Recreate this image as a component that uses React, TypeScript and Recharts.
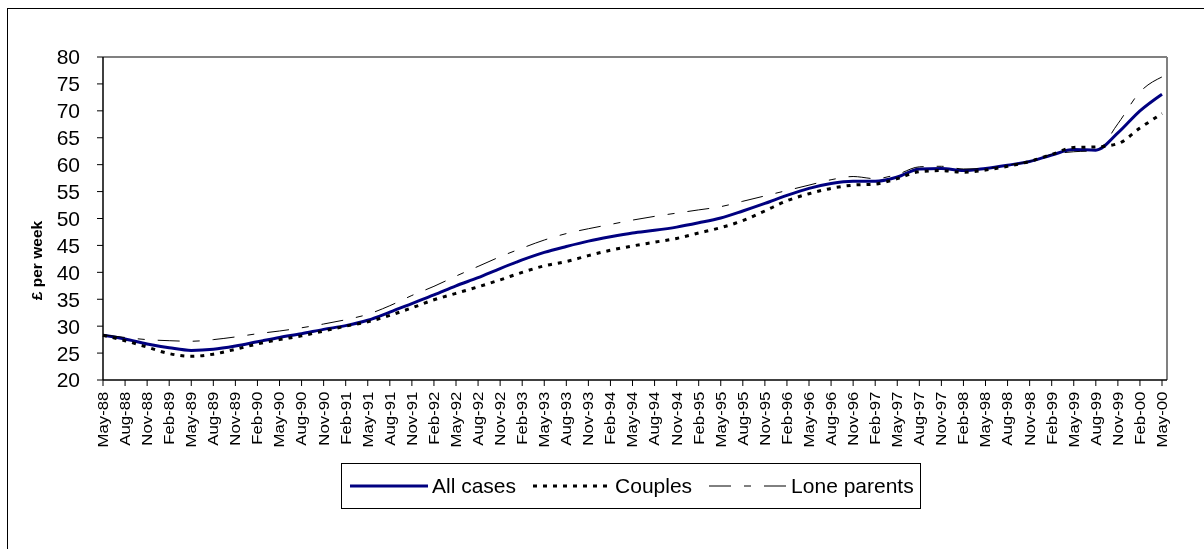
import React from 'react';
import { LineChart, Line, XAxis, YAxis, CartesianGrid, Legend } from 'recharts';

const quarters = [
  'May-88', 'Aug-88', 'Nov-88', 'Feb-89', 'May-89', 'Aug-89', 'Nov-89', 'Feb-90', 'May-90', 'Aug-90',
  'Nov-90', 'Feb-91', 'May-91', 'Aug-91', 'Nov-91', 'Feb-92', 'May-92', 'Aug-92', 'Nov-92', 'Feb-93',
  'May-93', 'Aug-93', 'Nov-93', 'Feb-94', 'May-94', 'Aug-94', 'Nov-94', 'Feb-95', 'May-95', 'Aug-95',
  'Nov-95', 'Feb-96', 'May-96', 'Aug-96', 'Nov-96', 'Feb-97', 'May-97', 'Aug-97', 'Nov-97', 'Feb-98',
  'May-98', 'Aug-98', 'Nov-98', 'Feb-99', 'May-99', 'Aug-99', 'Nov-99', 'Feb-00', 'May-00',
];

const allCases = [
  28.3, 27.6, 26.7, 26.0, 25.5, 25.7, 26.3, 27.1, 27.9, 28.6,
  29.4, 30.1, 31.1, 32.6, 34.2, 35.8, 37.5, 39.0, 40.7, 42.3,
  43.7, 44.8, 45.8, 46.6, 47.3, 47.8, 48.4, 49.2, 50.1, 51.4,
  52.8, 54.3, 55.6, 56.5, 56.9, 56.9, 57.7, 59.2, 59.3, 58.9,
  59.3, 59.9, 60.6, 61.8, 62.8, 62.7, 65.9, 70.0, 73.1,
];

const couples = [
  28.3, 27.3, 26.1, 24.9, 24.4, 24.8, 25.7, 26.7, 27.5, 28.2,
  29.1, 30.0, 30.8, 32.0, 33.4, 34.9, 36.1, 37.3, 38.6, 40.0,
  41.2, 42.0, 43.1, 44.1, 44.9, 45.6, 46.3, 47.3, 48.3, 49.6,
  51.4, 53.3, 54.6, 55.6, 56.2, 56.4, 57.4, 58.7, 58.9, 58.6,
  59.0, 59.7, 60.6, 61.9, 63.2, 63.3, 63.9, 66.8, 69.5,
];

const loneParents = [
  28.4, 27.9, 27.5, 27.3, 27.2, 27.5, 28.0, 28.6, 29.1, 29.7,
  30.4, 31.2, 32.2, 33.8, 35.7, 37.4, 39.3, 41.1, 42.9, 44.5,
  46.0, 47.2, 48.1, 48.9, 49.7, 50.4, 51.0, 51.6, 52.2, 53.2,
  54.2, 55.2, 56.2, 57.2, 57.8, 57.4, 58.2, 59.6, 59.7, 59.2,
  59.3, 59.9, 60.6, 61.9, 62.4, 62.6, 67.6, 73.5, 76.3,
];

const yTicks = [20, 25, 30, 35, 40, 45, 50, 55, 60, 65, 70, 75, 80];

const data = quarters.map((q, i) => ({
  q,
  all: allCases[i],
  couples: couples[i],
  lone: loneParents[i],
}));

const FONT = '"Liberation Sans", Arial, sans-serif';

const seriesStyle: Record<string, { color: string; width: number; dash?: string }> = {
  all: { color: '#000080', width: 3 },
  couples: { color: '#000000', width: 3, dash: '4 6' },
  lone: { color: '#000000', width: 1, dash: '22 13 7 13' },
};

const XTick = (props: any) => {
  const { x, y, payload } = props;
  return (
    <g transform={`translate(${x},${y})`}>
      <text
        transform="rotate(-90) scale(1.2,1)"
        x={-3}
        y={0}
        dy="0.35em"
        textAnchor="end"
        fontSize={14}
        fontFamily={FONT}
        fill="#000"
      >
        {payload.value}
      </text>
    </g>
  );
};

const renderYLabel = (props: any) => {
  const vb = props.viewBox || { x: 0, y: 0, width: 0, height: 0 };
  const x = vb.x + 29;
  const y = vb.y + vb.height / 2 + 42;
  return (
    <text
      x={x}
      y={y}
      transform={`rotate(-90, ${x}, ${y})`}
      textAnchor="middle"
      dy="0.35em"
      fontSize={15.5}
      fontWeight="bold"
      fontFamily={FONT}
      fill="#000"
    >
      £ per week
    </text>
  );
};

const renderLegend = (props: any) => {
  const { payload } = props;
  return (
    <div
      style={{
        boxSizing: 'border-box',
        width: 580,
        height: 46,
        border: '1px solid #000',
        display: 'flex',
        alignItems: 'center',
        paddingLeft: 8,
        fontFamily: FONT,
        fontSize: 21,
        color: '#000',
        background: '#fff',
      }}
    >
      {(payload || []).map((entry: any) => {
        const st = seriesStyle[entry.dataKey as string];
        return (
          <div key={entry.dataKey} style={{ display: 'flex', alignItems: 'center', marginRight: 17 }}>
            <svg width={78} height={10} style={{ display: 'block' }}>
              <line
                x1={0}
                y1={5}
                x2={78}
                y2={5}
                stroke={st.color}
                strokeWidth={st.width}
                strokeDasharray={st.dash}
              />
            </svg>
            <span style={{ marginLeft: 4, whiteSpace: 'nowrap' }}>{entry.value}</span>
          </div>
        );
      })}
    </div>
  );
};

export default function App() {
  return (
    <div style={{ position: 'relative', width: 1188, height: 532, fontFamily: FONT }}>
      <div
        style={{
          position: 'fixed',
          left: 7,
          top: 8,
          width: 1300,
          height: 700,
          borderTop: '1px solid #000',
          borderLeft: '1px solid #000',
          pointerEvents: 'none',
        }}
      />
      <div style={{ position: 'absolute', left: 0, top: 1 }}>
        <LineChart
          width={1188}
          height={531}
          data={data}
          margin={{ top: 48, right: 29, bottom: 99, left: 0 }}
        >
          <CartesianGrid
            stroke="#808080"
            strokeWidth={2}
            horizontalCoordinatesGenerator={(p: any) => [p.offset.top]}
            verticalCoordinatesGenerator={(p: any) => [p.offset.left + p.offset.width]}
          />
          <XAxis
            dataKey="q"
            interval={0}
            tick={<XTick />}
            tickSize={6}
            height={61}
            padding={{ left: 0, right: 5 }}
            axisLine={{ stroke: '#000', strokeWidth: 1.5 }}
            tickLine={{ stroke: '#000' }}
          />
          <YAxis
            type="number"
            domain={[20, 80]}
            ticks={yTicks}
            interval={0}
            width={95}
            tickSize={6}
            tickMargin={17}
            allowDataOverflow
            axisLine={{ stroke: '#000', strokeWidth: 1.5 }}
            tickLine={{ stroke: '#000' }}
            tick={{ fontSize: 21, fill: '#000', fontFamily: FONT }}
            label={renderYLabel}
          />
          <Legend
            layout="horizontal"
            verticalAlign="middle"
            align="center"
            content={renderLegend}
            wrapperStyle={{ left: 333, top: 454, width: 580, height: 46 }}
          />
          <Line
            type="monotone"
            dataKey="all"
            name="All cases"
            stroke={seriesStyle.all.color}
            strokeWidth={seriesStyle.all.width}
            dot={false}
            activeDot={false}
            isAnimationActive={false}
          />
          <Line
            type="monotone"
            dataKey="couples"
            name="Couples"
            stroke={seriesStyle.couples.color}
            strokeWidth={seriesStyle.couples.width}
            strokeDasharray={seriesStyle.couples.dash}
            dot={false}
            activeDot={false}
            isAnimationActive={false}
          />
          <Line
            type="monotone"
            dataKey="lone"
            name="Lone parents"
            stroke={seriesStyle.lone.color}
            strokeWidth={seriesStyle.lone.width}
            strokeDasharray={seriesStyle.lone.dash}
            dot={false}
            activeDot={false}
            isAnimationActive={false}
          />
        </LineChart>
      </div>
    </div>
  );
}
